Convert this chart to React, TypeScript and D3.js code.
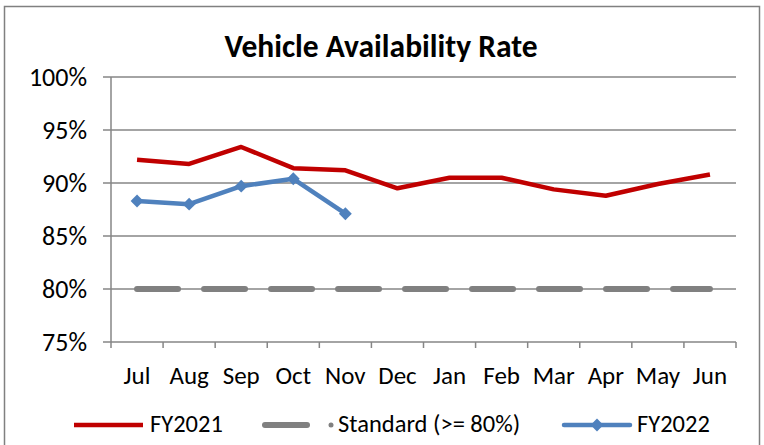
import React from "react";
import * as d3 from "d3";

const months = ["Jul", "Aug", "Sep", "Oct", "Nov", "Dec", "Jan", "Feb", "Mar", "Apr", "May", "Jun"];
const fy2021 = [0.922, 0.918, 0.934, 0.914, 0.912, 0.895, 0.905, 0.905, 0.894, 0.888, 0.899, 0.908];
const fy2022 = [0.883, 0.880, 0.897, 0.904, 0.871];
const standard = [0.8, 0.8, 0.8, 0.8, 0.8, 0.8, 0.8, 0.8, 0.8, 0.8, 0.8, 0.8];
const yTicks = [0.75, 0.8, 0.85, 0.9, 0.95, 1.0];
const title = "Vehicle Availability Rate";
const legendLabels = ["FY2021", "Standard (>= 80%)", "FY2022"];

const FONT = "Carlito, 'Liberation Sans Narrow', 'Liberation Sans', Arial, sans-serif";
const RED = "#C00000";
const BLUE = "#4F81BD";
const GRAY = "#808080";
const GRID = "#868686";

export default function App() {
  const left = 111, right = 736, top = 77, bottom = 342;
  const x = d3.scaleBand<string>().domain(months).range([left, right]);
  const y = d3.scaleLinear().domain([0.75, 1]).range([bottom, top]);
  const cx = (m: string) => (x(m) as number) + x.bandwidth() / 2;
  const line = d3.line<[string, number]>().x((d) => cx(d[0])).y((d) => y(d[1]));
  const pct = d3.format(".0%");

  const l2021 = line(months.map((m, i) => [m, fy2021[i]] as [string, number])) || "";
  const l2022 = line(fy2022.map((v, i) => [months[i], v] as [string, number])) || "";
  const lStd = line(months.map((m, i) => [m, standard[i]] as [string, number])) || "";

  const diamond = d3.symbol().type(d3.symbolDiamond2).size(105)() || "";
  const legendY = 425;

  return (
    <svg width={764} height={445} style={{ position: "absolute", left: 0, top: 0, display: "block", background: "#fff" }}>
      <rect x={4.5} y={6.5} width={755} height={450} fill="#fff" stroke={GRAY} strokeWidth={1.5} />
      <text x={381} y={57} textAnchor="middle" fontFamily={FONT} fontWeight="bold" fontSize={31.5} fill="#000">
        {title}
      </text>
      {yTicks.map((t) => (
        <g key={t}>
          <line x1={103} x2={right} y1={y(t)} y2={y(t)} stroke={GRID} strokeWidth={1.5} />
          <text x={87} y={y(t)} dy="0.33em" textAnchor="end" fontFamily={FONT} fontSize={26} fill="#000">
            {pct(t)}
          </text>
        </g>
      ))}
      <line x1={left} x2={left} y1={top} y2={bottom + 6} stroke={GRID} strokeWidth={1.5} />
      {months.map((m) => (
        <line key={"t" + m} x1={(x(m) as number) + x.bandwidth()} x2={(x(m) as number) + x.bandwidth()} y1={bottom} y2={bottom + 6} stroke={GRID} strokeWidth={1.5} />
      ))}
      {months.map((m) => (
        <text key={"l" + m} x={cx(m)} y={384} textAnchor="middle" fontFamily={FONT} fontSize={25} fill="#000">
          {m}
        </text>
      ))}
      <path d={lStd} fill="none" stroke={GRAY} strokeWidth={6} strokeDasharray="41 26" strokeLinecap="round" />
      <path d={l2021} fill="none" stroke={RED} strokeWidth={4.5} strokeLinejoin="round" />
      <path d={l2022} fill="none" stroke={BLUE} strokeWidth={4.5} strokeLinejoin="round" />
      {fy2022.map((v, i) => (
        <path key={"d" + i} d={diamond} transform={`translate(${cx(months[i])},${y(v)})`} fill={BLUE} />
      ))}
      {/* legend */}
      <line x1={74} x2={143} y1={legendY} y2={legendY} stroke={RED} strokeWidth={4.5} />
      <text x={150} y={432} fontFamily={FONT} fontSize={24.5} fill="#000">{legendLabels[0]}</text>
      <line x1={265} x2={307} y1={legendY} y2={legendY} stroke={GRAY} strokeWidth={6} strokeLinecap="round" />
      <circle cx={331} cy={legendY} r={2.5} fill={GRAY} />
      <text x={338} y={432} fontFamily={FONT} fontSize={24.5} fill="#000">{legendLabels[1]}</text>
      <line x1={564} x2={630} y1={legendY} y2={legendY} stroke={BLUE} strokeWidth={4.5} strokeLinecap="round" />
      <path d={diamond} transform={`translate(597,${legendY})`} fill={BLUE} />
      <text x={637} y={432} fontFamily={FONT} fontSize={24.5} fill="#000">{legendLabels[2]}</text>
    </svg>
  );
}
